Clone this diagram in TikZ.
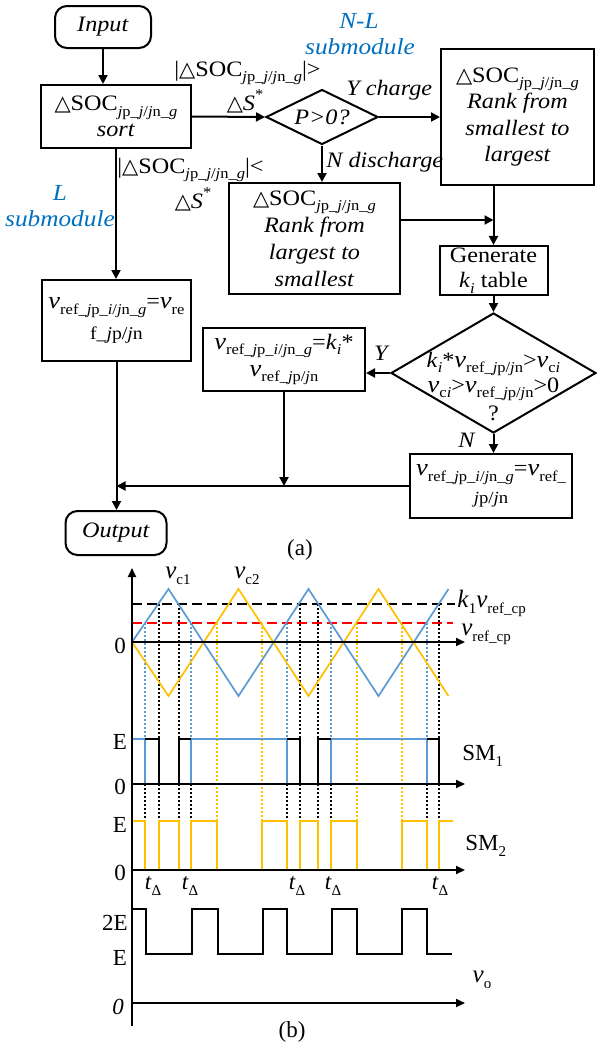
\documentclass[tikz,border=0pt]{standalone}
\usepackage{fontspec}
\setmainfont[FakeStretch=1.1]{Liberation Serif}
\newfontfamily\wf{Liberation Serif}
\newfontfamily\dejavu{DejaVu Sans}
\usetikzlibrary{arrows.meta,shapes.geometric}
\definecolor{nlblue}{RGB}{0,112,192}
\definecolor{wblue}{RGB}{91,155,213}
\definecolor{wyel}{RGB}{255,192,0}
\newcommand{\tri}{{\dejavu\fontsize{10.5}{10.5}\selectfont △}}
\newcommand{\sbs}[1]{\raisebox{-0.25em}{\fontsize{7.5}{8}\selectfont #1}}
\newcommand{\sps}[1]{\raisebox{0.5em}{\fontsize{7.5}{8}\selectfont #1}}
\newcommand{\iv}{{\fontsize{12}{12}\selectfont\itshape v}}
\newcommand{\ii}[1]{\textit{#1}}
\newcommand{\jpjg}{\ii{j}p\_\ii{j}/\ii{j}n\_\ii{g}}
\newcommand{\refji}{ref\_\ii{j}p\_\ii{i}/\ii{j}n\_\ii{g}}
\newcommand{\refj}{ref\_\ii{j}p/\ii{j}n}
\tikzset{
  box/.style={draw, line width=1pt, inner sep=1pt, align=center, font=\fontsize{11}{13}\selectfont},
  arr/.style={line width=1pt, -{Triangle[length=4.5pt,width=4.5pt]}},
  ln/.style={line width=1pt},
  lbl/.style={inner sep=0pt, align=center, font=\fontsize{11}{13}\selectfont},
  blu/.style={inner sep=0pt, text=nlblue, font=\fontsize{11.5}{13}\selectfont\itshape},
  wl/.style={inner sep=0pt, font=\wf\fontsize{11.5}{13}\selectfont},
  wave/.style={line width=0.85pt},
  dot/.style={line width=0.75pt, dash pattern=on 1pt off 1pt},
  dsh/.style={line width=0.9pt, dash pattern=on 5pt off 2.5pt},
  axis/.style={line width=1pt, -{Triangle[length=4.5pt,width=4pt]}}
}
\begin{document}
\begin{tikzpicture}[x=0.5pt,y=-0.5pt]
\useasboundingbox (0,0) rectangle (596,1045);
% ---------------- flowchart (a) ----------------
\node[box, rounded corners=6pt, minimum width=48pt, minimum height=21pt] (input) at (103,27) {\ii{Input}};
\node[box, minimum width=75pt, minimum height=31.5pt] (sort) at (116,116.5) {\tri SOC\sbs{\jpjg}\\ \ii{sort}};
\node[box, diamond, aspect=2, inner sep=0pt, minimum width=56pt, minimum height=27.5pt] (d1) at (322,117) {\ii{P>0?}};
\node[box, minimum width=76.5pt, minimum height=68pt, font=\fontsize{11}{13.3}\selectfont] (rs) at (517.5,117) {\tri SOC\sbs{\jpjg}\\ \ii{Rank from}\\ \ii{smallest to}\\ \ii{largest}};
\node[box, minimum width=85.5pt, minimum height=55.5pt, font=\fontsize{11}{13.5}\selectfont] (rl) at (314.5,238.5) {\tri SOC\sbs{\jpjg}\\ \ii{Rank from}\\ \ii{largest to}\\ \ii{smallest}};
\node[box, minimum width=54pt, minimum height=24.5pt, font=\fontsize{11}{12.5}\selectfont] (gen) at (493.5,270.5) {Generate\\ \ii{k}\sbs{\ii{i}} table};
\node[box, diamond, aspect=1.7, inner sep=0pt, minimum width=102.5pt, minimum height=60pt] (d2) at (493.5,373) {};
\node[lbl, anchor=base] (d2a) at (493.5,367) {\ii{k}\sbs{\ii{i}}*\iv\sbs{\refj}>\iv\sbs{c\ii{i}}};
\node[lbl, anchor=base] (d2b) at (493.5,392) {\iv\sbs{c\ii{i}}>\iv\sbs{\refj}>0};
\node[lbl, anchor=base] (d2c) at (493.5,420) {?};
\node[box, minimum width=81pt, minimum height=31.5pt, font=\fontsize{11}{13.5}\selectfont] (kb) at (284,359.5) {\iv\sbs{\refji}=\ii{k}\sbs{\ii{i}}*\\ \iv\sbs{\refj}};
\node[box, minimum width=81pt, minimum height=32pt, font=\fontsize{11}{14}\selectfont] (nb) at (491,486) {\iv\sbs{\refji}=\iv\sbs{ref\_}\\ {\fontsize{8.5}{8.5}\selectfont\ii{j}p/\ii{j}n}};
\node[box, minimum width=74.5pt, minimum height=40.5pt, font=\fontsize{11}{15.5}\selectfont] (lb) at (116.5,320.5) {\iv\sbs{\refji}=\iv\sbs{re}\\ {\fontsize{9}{9}\selectfont f\_\ii{j}p/\ii{j}n}};
\node[box, rounded corners=6pt, minimum width=50.5pt, minimum height=22pt] (out) at (116,533) {\ii{Output}};
% connectors
\draw[arr] (input.south) -- (input.south |- sort.north);
\draw[arr] (sort.east) -- (d1.west);
\draw[arr] (d1.east) -- (rs.west);
\draw[arr] (d1.south) -- (d1.south |- rl.north);
\coordinate (j1) at (493.5,220);
\draw[arr] (gen.north |- rs.south) -- (gen.north);
\draw[arr] (rl.east |- j1) -- (j1);
\draw[arr] (gen.south) -- (d2.north);
\draw[arr] (d2.west) -- (d2.west -| kb.east);
\draw[arr] (d2.south) -- (d2.south |- nb.north);
\coordinate (j2) at (lb.south |- nb.west);
\draw[arr] (nb.west) -- (j2);
\draw[arr] (kb.south) -- (kb.south |- nb.west);
\draw[arr] (sort.south) -- (sort.south |- lb.north);
\draw[arr] (lb.south) -- (lb.south |- out.north);
% labels
\node[lbl, anchor=west] (gt) at (174,73) {|\tri SOC\sbs{\jpjg}|>};
\node[lbl] (gts) at (245,101) {\tri\ii{S}\sps{*}};
\node[lbl, anchor=west] (lt) at (117,170) {|\tri SOC\sbs{\jpjg}|<};
\node[lbl] (lts) at (193,199) {\tri\ii{S}\sps{*}};
\node[blu] (nl1) at (359,21) {N-L};
\node[blu] (nl2) at (360,47) {submodule};
\node[blu] (l1) at (60,193) {L};
\node[blu] (l2) at (60,219) {submodule};
\node[lbl, anchor=west] (yc) at (346,90) {\ii{Y charge}};
\node[lbl, anchor=west] (nd) at (326,162) {\ii{N discharge}};
\node[lbl] (yl) at (382,353) {\ii{Y}};
\node[lbl] (nl) at (467,440) {\ii{N}};
\node[wl] (capa) at (300,550) {(a)};
% ---------------- waveforms (b) ----------------
% dotted guides
\foreach \x in {145,191,287,331,427} \draw[wblue, dot] (\x,623) -- (\x,739);
\foreach \x in {159,179,300,318,439} \draw[black, dot] (\x,604) -- (\x,739);
\foreach \x in {145,159,179,191,287,300,318,331,427,439} \draw[black, dot] (\x,784) -- (\x,821);
\foreach \x in {217,262,357,402} \draw[wyel, dot] (\x,623) -- (\x,821);
% reference lines
\draw[dsh, black] (132,604) -- (455,604);
\draw[dsh, red] (132,623) -- (453,623);
% carriers
\draw[wave, wblue] (132,642) -- (168.5,589) -- (238.5,696) -- (308.5,589) -- (378.5,696) -- (448.5,589);
\draw[wave, wyel] (132,642) -- (168.5,696) -- (238.5,589) -- (308.5,696) -- (378.5,589) -- (448.5,696);
% SM1
\draw[wave, wblue] (132,739) -- (145,739) -- (145,784);
\draw[wave, wblue] (191,784) -- (191,739) -- (287,739) -- (287,784);
\draw[wave, wblue] (331,784) -- (331,739) -- (427,739) -- (427,784);
\draw[wave, black] (145,739) -- (159,739) -- (159,784);
\draw[wave, black] (179,784) -- (179,739) -- (191,739);
\draw[wave, black] (287,739) -- (300,739) -- (300,784);
\draw[wave, black] (318,784) -- (318,739) -- (331,739);
\draw[wave, black] (427,739) -- (439,739) -- (439,784);
% SM2
\draw[wave, wyel] (132,821) -- (145,821) -- (145,870) -- (159,870) -- (159,821) -- (179,821) -- (179,870) -- (191,870) -- (191,821) -- (217,821) -- (217,870) -- (262,870) -- (262,821) -- (287,821) -- (287,870) -- (300,870) -- (300,821) -- (318,821) -- (318,870) -- (331,870) -- (331,821) -- (357,821) -- (357,870) -- (402,870) -- (402,821) -- (427,821) -- (427,870) -- (439,870) -- (439,821) -- (453,821);
% vo
\draw[wave, black] (132,909) -- (146,909) -- (146,954) -- (192,954) -- (192,909) -- (218,909) -- (218,954) -- (263,954) -- (263,909) -- (287,909) -- (287,954) -- (332,954) -- (332,909) -- (357,909) -- (357,954) -- (402,954) -- (402,909) -- (427,909) -- (427,954) -- (452,954);
% axes
\draw[axis] (132,1026) -- (132,568);
\foreach \y in {642,784,870,1003} \draw[axis] (132,\y) -- (465,\y);
% labels
\node[wl, font=\wf\fontsize{12.5}{13}\selectfont] (vc1) at (178,576) {\ii{v}\sbs{c1}};
\node[wl, font=\wf\fontsize{12.5}{13}\selectfont] (vc2) at (247,576) {\ii{v}\sbs{c2}};
\node[wl, anchor=base west, font=\wf\fontsize{12.5}{13}\selectfont] (kv) at (457,607) {\ii{k}\sbs{1}\ii{v}\sbs{ref\_cp}};
\node[wl, anchor=base west, font=\wf\fontsize{12.5}{13}\selectfont] (vr) at (461,635) {\ii{v}\sbs{ref\_cp}};
\node[wl] (z1) at (120,646) {0};
\node[wl] (e1) at (120,742) {E};
\node[wl] (z2) at (120,787) {0};
\node[wl] (e2) at (120,825) {E};
\node[wl] (z3) at (120,873) {0};
\node[wl, anchor=west] (sm1) at (462,756) {SM\sbs{1}};
\node[wl, anchor=west] (sm2) at (465,846) {SM\sbs{2}};
\foreach \x/\n in {153/a,190/b,297/c,333/d,440/e} \node[wl] (td\n) at (\x,886) {\ii{t}\sbs{Δ}};
\node[wl] (e2e) at (115,923) {2E};
\node[wl] (e3) at (120,958) {E};
\node[wl] (z4) at (118,1007) {\ii{0}};
\node[wl, font=\wf\fontsize{12.5}{13}\selectfont] (vo) at (482,980) {\ii{v}\sbs{o}};
\node[wl] (capb) at (292,1032) {(b)};
\end{tikzpicture}
\end{document}
